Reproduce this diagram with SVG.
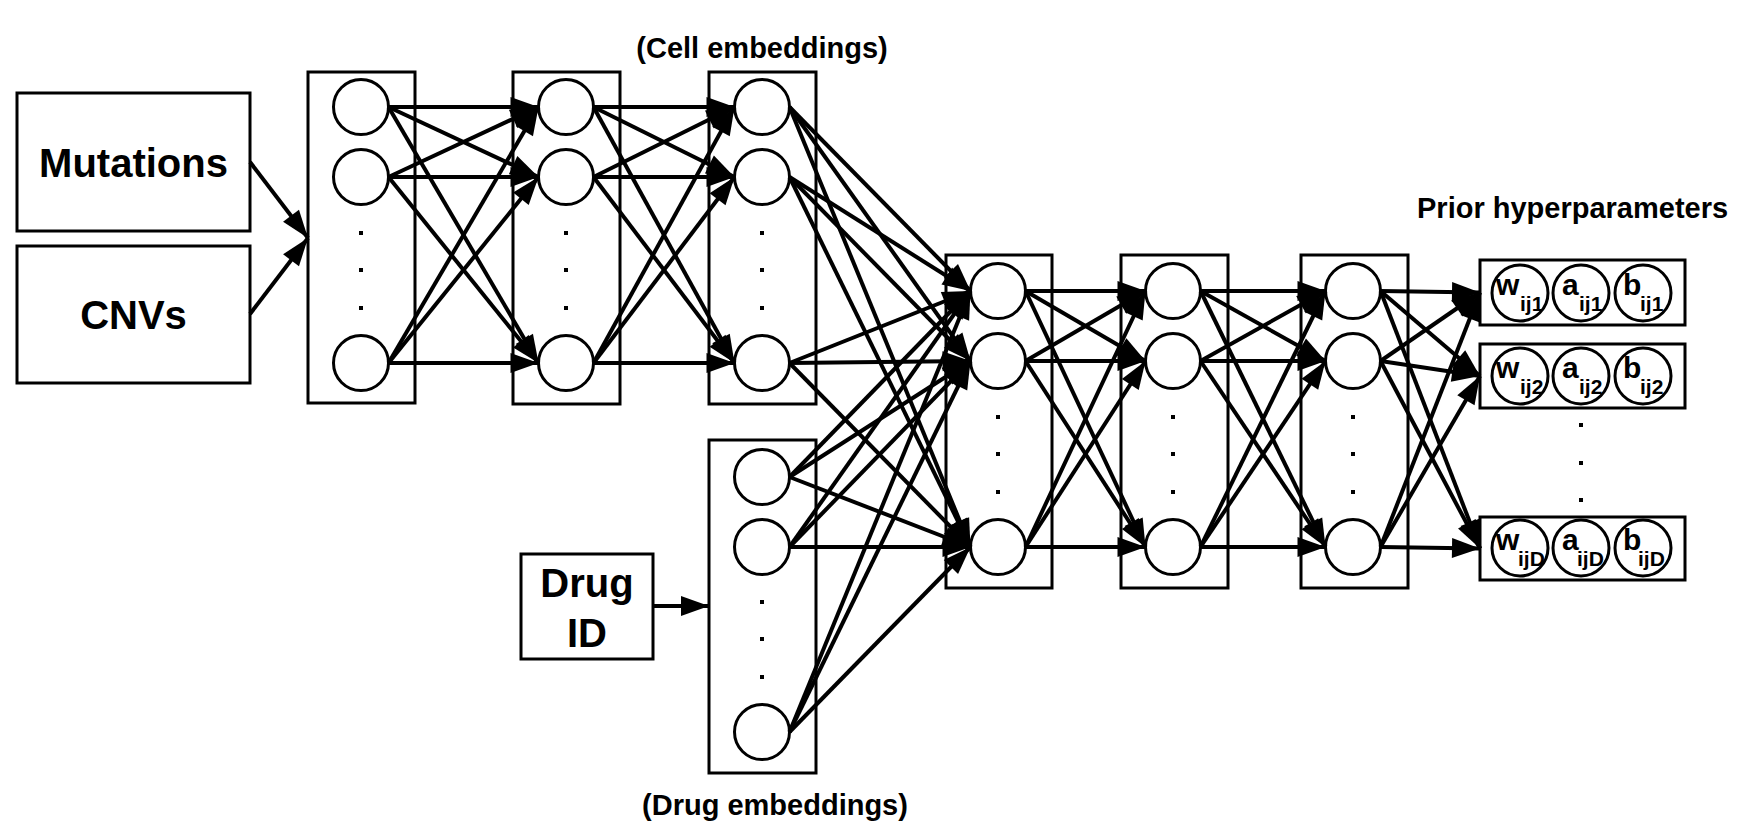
<svg xmlns="http://www.w3.org/2000/svg" width="1753" height="838" viewBox="0 0 1753 838">
<style>
.box{fill:#fff;stroke:#000;stroke-width:3}
.nd{fill:#fff;stroke:#000;stroke-width:3}
.e{stroke:#000;stroke-width:4;marker-end:url(#ah)}
.t{font-family:"Liberation Sans",Arial,sans-serif;font-weight:bold;fill:#000}
.big{font-size:40px;text-anchor:middle}
.lab{font-size:29px}
.p{font-size:30px}
.s{font-size:21px}
.dot{fill:#000}
</style>
<defs>
<marker id="ah" markerUnits="userSpaceOnUse" markerWidth="28" markerHeight="20" refX="28" refY="10" orient="auto" overflow="visible">
<path d="M0,0 L28,10 L0,20 z" fill="#000"/>
</marker>
</defs>
<rect width="1753" height="838" fill="#fff"/>

<g id="inputs">
<g id="mutations"><rect class="box" x="17" y="93" width="233" height="138"/><text class="t big" x="133.5" y="177">Mutations</text></g>
<g id="cnvs"><rect class="box" x="17" y="246" width="233" height="137"/><text class="t big" x="133.5" y="329">CNVs</text></g>
<g id="drugid"><rect class="box" x="521" y="554" width="132" height="105"/><text class="t big" x="587" y="597">Drug</text><text class="t big" x="587" y="647">ID</text></g>
</g>

<g id="layer1"><rect class="box" x="308" y="72" width="107" height="331"/>
<circle class="nd" cx="361" cy="107" r="27.5"/><circle class="nd" cx="361" cy="177" r="27.5"/><circle class="nd" cx="361" cy="363" r="27.5"/>
<rect class="dot" x="359" y="231" width="4" height="4"/><rect class="dot" x="359" y="268" width="4" height="4"/><rect class="dot" x="359" y="306" width="4" height="4"/></g>

<g id="layer2"><rect class="box" x="513" y="72" width="107" height="332"/>
<circle class="nd" cx="566" cy="107" r="27.5"/><circle class="nd" cx="566" cy="177" r="27.5"/><circle class="nd" cx="566" cy="363" r="27.5"/>
<rect class="dot" x="564" y="231" width="4" height="4"/><rect class="dot" x="564" y="268" width="4" height="4"/><rect class="dot" x="564" y="306" width="4" height="4"/></g>

<g id="cellemb"><rect class="box" x="709" y="72" width="107" height="332"/>
<circle class="nd" cx="762" cy="107" r="27.5"/><circle class="nd" cx="762" cy="177" r="27.5"/><circle class="nd" cx="762" cy="363" r="27.5"/>
<rect class="dot" x="760" y="231" width="4" height="4"/><rect class="dot" x="760" y="268" width="4" height="4"/><rect class="dot" x="760" y="306" width="4" height="4"/>
<text class="t lab" x="762" y="58" text-anchor="middle">(Cell embeddings)</text></g>

<g id="drugemb"><rect class="box" x="709" y="440" width="107" height="333"/>
<circle class="nd" cx="762" cy="477" r="27.5"/><circle class="nd" cx="762" cy="547" r="27.5"/><circle class="nd" cx="762" cy="732" r="27.5"/>
<rect class="dot" x="760" y="600" width="4" height="4"/><rect class="dot" x="760" y="637" width="4" height="4"/><rect class="dot" x="760" y="675" width="4" height="4"/>
<text class="t lab" x="775" y="815" text-anchor="middle">(Drug embeddings)</text></g>

<g id="layer4"><rect class="box" x="946" y="255" width="106" height="333"/>
<circle class="nd" cx="998" cy="291" r="27.5"/><circle class="nd" cx="998" cy="361" r="27.5"/><circle class="nd" cx="998" cy="547" r="27.5"/>
<rect class="dot" x="996" y="415" width="4" height="4"/><rect class="dot" x="996" y="452" width="4" height="4"/><rect class="dot" x="996" y="490" width="4" height="4"/></g>

<g id="layer5"><rect class="box" x="1121" y="255" width="107" height="333"/>
<circle class="nd" cx="1173" cy="291" r="27.5"/><circle class="nd" cx="1173" cy="361" r="27.5"/><circle class="nd" cx="1173" cy="547" r="27.5"/>
<rect class="dot" x="1171" y="415" width="4" height="4"/><rect class="dot" x="1171" y="452" width="4" height="4"/><rect class="dot" x="1171" y="490" width="4" height="4"/></g>

<g id="layer6"><rect class="box" x="1301" y="255" width="107" height="333"/>
<circle class="nd" cx="1353" cy="291" r="27.5"/><circle class="nd" cx="1353" cy="361" r="27.5"/><circle class="nd" cx="1353" cy="547" r="27.5"/>
<rect class="dot" x="1351" y="415" width="4" height="4"/><rect class="dot" x="1351" y="452" width="4" height="4"/><rect class="dot" x="1351" y="490" width="4" height="4"/></g>

<g id="priors">
<text class="t lab" x="1417" y="218">Prior hyperparameters</text>
<g id="out1"><rect class="box" x="1480" y="260" width="205" height="65"/>
<circle class="nd" cx="1520" cy="293" r="28"/><circle class="nd" cx="1581" cy="293" r="28"/><circle class="nd" cx="1643" cy="293" r="28"/>
<text class="t p" x="1496" y="295">w</text><text class="t s" x="1520" y="311">ij1</text>
<text class="t p" x="1562" y="295">a</text><text class="t s" x="1579" y="311">ij1</text>
<text class="t p" x="1623" y="295">b</text><text class="t s" x="1640" y="311">ij1</text></g>
<g id="out2"><rect class="box" x="1480" y="344" width="205" height="64"/>
<circle class="nd" cx="1520" cy="376" r="28"/><circle class="nd" cx="1581" cy="376" r="28"/><circle class="nd" cx="1643" cy="376" r="28"/>
<text class="t p" x="1496" y="378">w</text><text class="t s" x="1520" y="394">ij2</text>
<text class="t p" x="1562" y="378">a</text><text class="t s" x="1579" y="394">ij2</text>
<text class="t p" x="1623" y="378">b</text><text class="t s" x="1640" y="394">ij2</text></g>
<g id="outD"><rect class="box" x="1480" y="517" width="205" height="63"/>
<circle class="nd" cx="1520" cy="548" r="28"/><circle class="nd" cx="1581" cy="548" r="28"/><circle class="nd" cx="1643" cy="548" r="28"/>
<text class="t p" x="1496" y="550">w</text><text class="t s" x="1518" y="566">ijD</text>
<text class="t p" x="1562" y="550">a</text><text class="t s" x="1577" y="566">ijD</text>
<text class="t p" x="1623" y="550">b</text><text class="t s" x="1638" y="566">ijD</text></g>
<rect class="dot" x="1579" y="423" width="4" height="4"/><rect class="dot" x="1579" y="461" width="4" height="4"/><rect class="dot" x="1579" y="498" width="4" height="4"/>
</g>

<g id="connectors">
<line class="e" x1="250" y1="162" x2="308" y2="238"/>
<line class="e" x1="250" y1="314" x2="308" y2="238"/>
<line class="e" x1="653" y1="606" x2="709" y2="606"/>
<!-- L1 -> L2 -->
<line class="e" x1="388.5" y1="107" x2="538.5" y2="107"/>
<line class="e" x1="388.5" y1="107" x2="538.5" y2="177"/>
<line class="e" x1="388.5" y1="107" x2="538.5" y2="363"/>
<line class="e" x1="388.5" y1="177" x2="538.5" y2="107"/>
<line class="e" x1="388.5" y1="177" x2="538.5" y2="177"/>
<line class="e" x1="388.5" y1="177" x2="538.5" y2="363"/>
<line class="e" x1="388.5" y1="363" x2="538.5" y2="107"/>
<line class="e" x1="388.5" y1="363" x2="538.5" y2="177"/>
<line class="e" x1="388.5" y1="363" x2="538.5" y2="363"/>
<!-- L2 -> L3 -->
<line class="e" x1="593.5" y1="107" x2="734.5" y2="107"/>
<line class="e" x1="593.5" y1="107" x2="734.5" y2="177"/>
<line class="e" x1="593.5" y1="107" x2="734.5" y2="363"/>
<line class="e" x1="593.5" y1="177" x2="734.5" y2="107"/>
<line class="e" x1="593.5" y1="177" x2="734.5" y2="177"/>
<line class="e" x1="593.5" y1="177" x2="734.5" y2="363"/>
<line class="e" x1="593.5" y1="363" x2="734.5" y2="107"/>
<line class="e" x1="593.5" y1="363" x2="734.5" y2="177"/>
<line class="e" x1="593.5" y1="363" x2="734.5" y2="363"/>
<!-- L3 -> L4 -->
<line class="e" x1="789.5" y1="107" x2="970.5" y2="291"/>
<line class="e" x1="789.5" y1="107" x2="970.5" y2="361"/>
<line class="e" x1="789.5" y1="107" x2="970.5" y2="547"/>
<line class="e" x1="789.5" y1="177" x2="970.5" y2="291"/>
<line class="e" x1="789.5" y1="177" x2="970.5" y2="361"/>
<line class="e" x1="789.5" y1="177" x2="970.5" y2="547"/>
<line class="e" x1="789.5" y1="363" x2="970.5" y2="291"/>
<line class="e" x1="789.5" y1="363" x2="970.5" y2="361"/>
<line class="e" x1="789.5" y1="363" x2="970.5" y2="547"/>
<!-- Drug -> L4 -->
<line class="e" x1="789.5" y1="477" x2="970.5" y2="291"/>
<line class="e" x1="789.5" y1="477" x2="970.5" y2="361"/>
<line class="e" x1="789.5" y1="477" x2="970.5" y2="547"/>
<line class="e" x1="789.5" y1="547" x2="970.5" y2="291"/>
<line class="e" x1="789.5" y1="547" x2="970.5" y2="361"/>
<line class="e" x1="789.5" y1="547" x2="970.5" y2="547"/>
<line class="e" x1="789.5" y1="732" x2="970.5" y2="291"/>
<line class="e" x1="789.5" y1="732" x2="970.5" y2="361"/>
<line class="e" x1="789.5" y1="732" x2="970.5" y2="547"/>
<!-- L4 -> L5 -->
<line class="e" x1="1025.5" y1="291" x2="1145.5" y2="291"/>
<line class="e" x1="1025.5" y1="291" x2="1145.5" y2="361"/>
<line class="e" x1="1025.5" y1="291" x2="1145.5" y2="547"/>
<line class="e" x1="1025.5" y1="361" x2="1145.5" y2="291"/>
<line class="e" x1="1025.5" y1="361" x2="1145.5" y2="361"/>
<line class="e" x1="1025.5" y1="361" x2="1145.5" y2="547"/>
<line class="e" x1="1025.5" y1="547" x2="1145.5" y2="291"/>
<line class="e" x1="1025.5" y1="547" x2="1145.5" y2="361"/>
<line class="e" x1="1025.5" y1="547" x2="1145.5" y2="547"/>
<!-- L5 -> L6 -->
<line class="e" x1="1200.5" y1="291" x2="1325.5" y2="291"/>
<line class="e" x1="1200.5" y1="291" x2="1325.5" y2="361"/>
<line class="e" x1="1200.5" y1="291" x2="1325.5" y2="547"/>
<line class="e" x1="1200.5" y1="361" x2="1325.5" y2="291"/>
<line class="e" x1="1200.5" y1="361" x2="1325.5" y2="361"/>
<line class="e" x1="1200.5" y1="361" x2="1325.5" y2="547"/>
<line class="e" x1="1200.5" y1="547" x2="1325.5" y2="291"/>
<line class="e" x1="1200.5" y1="547" x2="1325.5" y2="361"/>
<line class="e" x1="1200.5" y1="547" x2="1325.5" y2="547"/>
<!-- L6 -> outputs -->
<line class="e" x1="1380.5" y1="291" x2="1480" y2="292.5"/>
<line class="e" x1="1380.5" y1="291" x2="1480" y2="376"/>
<line class="e" x1="1380.5" y1="291" x2="1480" y2="548.5"/>
<line class="e" x1="1380.5" y1="361" x2="1480" y2="292.5"/>
<line class="e" x1="1380.5" y1="361" x2="1480" y2="376"/>
<line class="e" x1="1380.5" y1="361" x2="1480" y2="548.5"/>
<line class="e" x1="1380.5" y1="547" x2="1480" y2="292.5"/>
<line class="e" x1="1380.5" y1="547" x2="1480" y2="376"/>
<line class="e" x1="1380.5" y1="547" x2="1480" y2="548.5"/>
</g>
</svg>
